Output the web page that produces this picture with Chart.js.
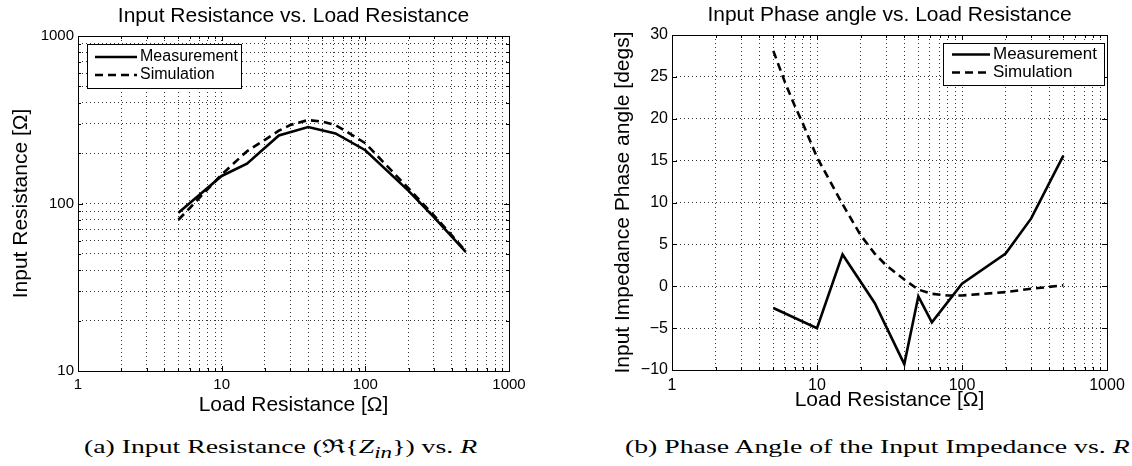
<!DOCTYPE html>
<html>
<head>
<meta charset="utf-8">
<script src="https://cdn.jsdelivr.net/npm/chart.js@4.4.0/dist/chart.umd.min.js"></script>
<style>
  html, body { margin: 0; padding: 0; background: #fff; overflow: hidden; }
  #page { position: relative; width: 1132px; height: 466px; overflow: hidden; }
  canvas { position: absolute; top: 0; }
  #c1 { left: 0; }
  #c2 { left: 600px; }
  .cap { position: absolute; top: 437px; font-family: "Liberation Serif", "DejaVu Serif", serif; font-size: 19px; line-height: 20px; white-space: nowrap; color: #000; transform-origin: 0 50%; }
  #capA { left: 84px; transform: scaleX(1.46); }
  #capB { left: 625px; transform: scaleX(1.46); }
</style>
</head>
<body>
<div id="page">
  <canvas id="c1" width="587" height="420"></canvas>
  <canvas id="c2" width="579" height="420"></canvas>
  <div class="cap" id="capA">(a) Input Resistance (ℜ{<i>Z</i><sub><i>in</i></sub>}) vs. <i>R</i></div>
  <div class="cap" id="capB">(b) Phase Angle of the Input Impedance vs. <i>R</i></div>
</div>
<script>
// load resistance values (ohm)
const loadR = [5, 10, 15, 25, 40, 62, 100, 200, 300, 500];
const measRes = [88, 146, 173, 255, 286, 262, 208, 119, 83, 51.5];
const simR = [5, 6, 7, 8, 10, 15, 20, 25, 30, 40, 50, 62, 80, 100, 200, 300, 500];
const simRes = [80, 94, 108, 122, 149, 205, 240, 272, 294, 315, 308, 294, 258, 229, 123, 85, 52];

const phaseR = [5, 10, 15, 25, 40, 50, 62, 100, 200, 300, 500];
const measPhase = [-2.6, -5.0, 3.8, -2.0, -9.3, -1.2, -4.3, 0.3, 3.9, 8.1, 15.6];
const simPhase = [28.1, 24.4, 21.6, 19.4, 15.4, 9.8, 6.1, 3.9, 2.5, 0.8, -0.4, -0.9, -1.1, -1.1, -0.7, -0.3, 0.1];

const xTickLabels = ['1', '10', '100', '1000'];
const resTickLabels = ['10', '100', '1000'];

const SANS = '"Liberation Sans", Arial, Helvetica, sans-serif';
const pts = (xs, ys) => xs.map((x, i) => ({x: x, y: ys[i]}));

// 1..9 per decade, like matlab log grid
const logTicks = (min, max) => {
    const t = [];
    for (let d = min; d < max; d *= 10)
        for (let k = 1; k < 10; k++) t.push({value: d * k});
    t.push({value: max});
    return t;
};

const gridOpts = {color: '#333', lineWidth: 1, drawTicks: false};
const dotted = {display: false, dash: [1, 3]};

// box + inward tick marks around the plot area
const framePlugin = {
    id: 'frame',
    afterDatasetsDraw(chart) {
        const {ctx, chartArea: a} = chart;
        const xs = chart.scales.x, ys = chart.scales.y;
        ctx.save();
        ctx.strokeStyle = '#000';
        ctx.lineWidth = 1;
        ctx.setLineDash([]);
        ctx.beginPath();
        xs.ticks.forEach(t => {
            const px = Math.round(xs.getPixelForValue(t.value)) + 0.5;
            const len = xTickLabels.includes(String(t.value)) ? 5 : 3;
            ctx.moveTo(px, a.bottom); ctx.lineTo(px, a.bottom - len);
            ctx.moveTo(px, a.top); ctx.lineTo(px, a.top + len);
        });
        ys.ticks.forEach(t => {
            const py = Math.round(ys.getPixelForValue(t.value)) + 0.5;
            const len = (ys.type === 'linear' || resTickLabels.includes(String(t.value))) ? 5 : 3;
            ctx.moveTo(a.left, py); ctx.lineTo(a.left + len, py);
            ctx.moveTo(a.right, py); ctx.lineTo(a.right - len, py);
        });
        ctx.stroke();
        ctx.strokeRect(Math.round(a.left) + 0.5, Math.round(a.top) + 0.5,
            Math.round(a.right - a.left), Math.round(a.bottom - a.top));
        ctx.restore();
    }
};

// matlab style legend drawn inside the axes
const boxLegend = {
    id: 'boxLegend',
    afterDraw(chart, args, o) {
        const {ctx, chartArea: a} = chart;
        const x0 = Math.round(o.side === 'left' ? a.left + o.dx : a.right - o.dx - o.w);
        const y0 = Math.round(a.top + o.dy);
        ctx.save();
        ctx.fillStyle = '#fff';
        ctx.fillRect(x0, y0, o.w, o.h);
        ctx.strokeStyle = '#000';
        ctx.lineWidth = 1;
        ctx.strokeRect(x0 + 0.5, y0 + 0.5, o.w, o.h);
        ctx.font = o.size + 'px ' + SANS;
        ctx.textBaseline = 'middle';
        ctx.fillStyle = '#000';
        chart.data.datasets.forEach((ds, i) => {
            const y = y0 + o.rowTop + i * o.rowGap;
            ctx.setLineDash(ds.borderDash || []);
            ctx.lineWidth = ds.borderWidth;
            ctx.beginPath();
            ctx.moveTo(x0 + o.pad, y);
            ctx.lineTo(x0 + o.pad + o.line, y);
            ctx.stroke();
            ctx.setLineDash([]);
            ctx.fillText(ds.label, x0 + o.pad + o.line + 3, y);
        });
        ctx.restore();
    }
};

const lineSets = (xm, ym, xs, ysim) => [
    {label: 'Measurement', data: pts(xm, ym), borderColor: '#000', borderWidth: 2.6, pointRadius: 0, tension: 0, fill: false},
    {label: 'Simulation', data: pts(xs, ysim), borderColor: '#000', borderWidth: 2.6, borderDash: [8, 5], pointRadius: 0, tension: 0, fill: false}
];

const xAxis = (h, titlePad, tickPad, tickSize) => ({
    type: 'logarithmic', position: 'bottom', min: 1, max: 1000,
    afterBuildTicks: s => { s.ticks = logTicks(1, 1000); },
    afterFit: s => { s.height = h; },
    ticks: {autoSkip: false, maxRotation: 0, padding: tickPad, color: '#000', font: {family: SANS, size: tickSize},
        callback: v => xTickLabels.includes(String(v)) ? String(v) : ''},
    grid: gridOpts, border: dotted,
    title: {display: true, text: 'Load Resistance [Ω]', color: '#000', font: {family: SANS, size: 21}, padding: {top: 0, bottom: titlePad}}
});

// empty right axis, keeps the title centred over the plot
const spacer = w => ({
    type: 'linear', position: 'right', display: true,
    grid: {display: false}, border: {display: false}, ticks: {display: false},
    afterFit: s => { s.width = w; }
});

new Chart(document.getElementById('c1'), {
    type: 'line',
    data: {datasets: lineSets(loadR, measRes, simR, simRes)},
    options: {
        responsive: false, animation: false, devicePixelRatio: 1,
        layout: {padding: 0},
        plugins: {
            legend: {display: false}, tooltip: {enabled: false},
            title: {display: true, text: 'Input Resistance vs. Load Resistance', color: '#000',
                font: {family: SANS, size: 21, weight: 'normal'}, padding: {top: 3.5, bottom: 7.3}},
            boxLegend: {side: 'left', dx: 9, dy: 8, w: 154, h: 44, pad: 8, line: 42, rowTop: 13, rowGap: 18, size: 16}
        },
        scales: {
            x: xAxis(49, 2.4, 5, 15),
            y: {
                type: 'logarithmic', min: 10, max: 1000,
                afterBuildTicks: s => { s.ticks = logTicks(10, 1000); },
                afterFit: s => { s.width = 78; },
                ticks: {autoSkip: false, padding: 4, color: '#000', font: {family: SANS, size: 15},
                    callback: v => resTickLabels.includes(String(v)) ? String(v) : ''},
                grid: gridOpts, border: dotted,
                title: {display: true, text: 'Input Resistance [Ω]', color: '#000', font: {family: SANS, size: 21}, padding: {top: 8.2, bottom: 0}}
            },
            yR: spacer(78)
        }
    },
    plugins: [framePlugin, boxLegend]
});

new Chart(document.getElementById('c2'), {
    type: 'line',
    data: {datasets: lineSets(phaseR, measPhase, simR, simPhase)},
    options: {
        responsive: false, animation: false, devicePixelRatio: 1,
        layout: {padding: 0},
        plugins: {
            legend: {display: false}, tooltip: {enabled: false},
            title: {display: true, text: 'Input Phase angle vs. Load Resistance', color: '#000',
                font: {family: SANS, size: 21, weight: 'normal'}, padding: {top: 3, bottom: 6.8}},
            boxLegend: {side: 'right', dx: 3, dy: 8, w: 161, h: 42, pad: 9, line: 38, rowTop: 11.5, rowGap: 18, size: 17}
        },
        scales: {
            x: xAxis(50, 7, 6, 16),
            y: {
                type: 'linear', min: -10, max: 30,
                ticks: {stepSize: 5, padding: 4, color: '#000', font: {family: SANS, size: 16},
                    callback: v => v < 0 ? '\u2212' + Math.abs(v) : String(v)},
                afterFit: s => { s.width = 72; },
                grid: gridOpts, border: dotted,
                title: {display: true, text: 'Input Impedance Phase angle [degs]', color: '#000', font: {family: SANS, size: 21}, padding: {top: 11.1, bottom: 0}}
            },
            yR: spacer(72)
        }
    },
    plugins: [framePlugin, boxLegend]
});
</script>
</body>
</html>
